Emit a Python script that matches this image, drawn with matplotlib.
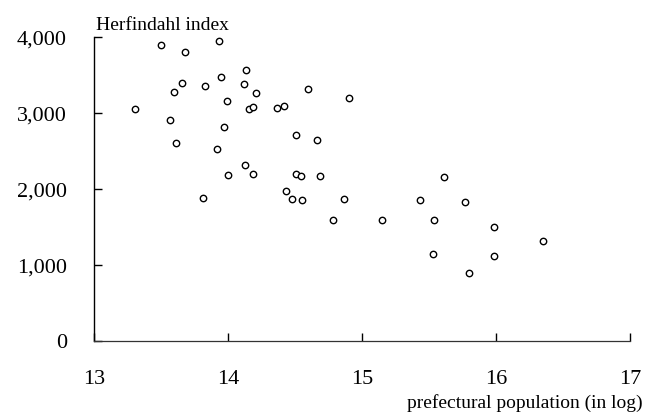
import matplotlib
matplotlib.use("Agg")
import matplotlib.pyplot as plt
from matplotlib.ticker import FuncFormatter

# log prefectural population
pop_log = [13.50, 13.935, 13.68, 14.137, 13.95, 13.66, 14.12, 13.83, 13.595, 14.207,
           14.597, 14.90, 13.99, 13.306, 14.155, 14.187, 14.366, 14.418, 13.567, 13.968,
           14.51, 14.664, 13.61, 13.916, 14.127, 14.002, 14.187, 14.51, 14.545, 14.689,
           14.435, 13.816, 14.475, 14.555, 14.868, 15.614, 15.43, 15.766, 14.78, 15.147,
           15.537, 15.987, 16.353, 15.527, 15.987, 15.80]
# Herfindahl index
hhi = [3895, 3951, 3803, 3566, 3474, 3399, 3386, 3355, 3280, 3263,
       3324, 3205, 3161, 3057, 3053, 3083, 3070, 3100, 2908, 2816,
       2711, 2649, 2605, 2530, 2320, 2188, 2201, 2201, 2175, 2175,
       1978, 1882, 1868, 1859, 1872, 2158, 1859, 1829, 1592, 1600,
       1600, 1504, 1320, 1153, 1122, 895]

x_ticks = [13, 14, 15, 16, 17]
y_ticks = [0, 1000, 2000, 3000, 4000]

plt.rcParams['font.family'] = ['Liberation Serif', 'DejaVu Serif']

fig = plt.figure(figsize=(6.45, 4.18), dpi=100)
ax = fig.add_axes([94/645, 1-341.3/418, (630-94)/645, (341.3-37.3)/418])

ax.plot(pop_log, hhi, linestyle='none', marker='o', markersize=4.6,
        markerfacecolor='white', markeredgecolor='black', markeredgewidth=1.0,
        clip_on=False)

ax.set_xlim(13, 17)
ax.set_ylim(0, 4000)
ax.set_xticks(x_ticks)
ax.set_yticks(y_ticks)
ax.yaxis.set_major_formatter(FuncFormatter(lambda v, p: f"{int(v):,}"))
for s in ['top', 'right']:
    ax.spines[s].set_visible(False)
ax.spines['left'].set_linewidth(1.0)
ax.spines['bottom'].set_linewidth(0.9)
ax.spines['bottom'].set_color('#333333')
ax.tick_params(axis='both', direction='in', length=6, width=1.0, labelsize=16)
ax.tick_params(axis='x', pad=20.5)
ax.tick_params(axis='y', pad=19.5)

fig.text(96/645, 1-30/418, "Herfindahl index", fontsize=14, ha='left', va='baseline')
fig.text(643/645, 1-408/418, "prefectural population (in log)", fontsize=14,
         ha='right', va='baseline')

fig.savefig("out.png", dpi=100)
